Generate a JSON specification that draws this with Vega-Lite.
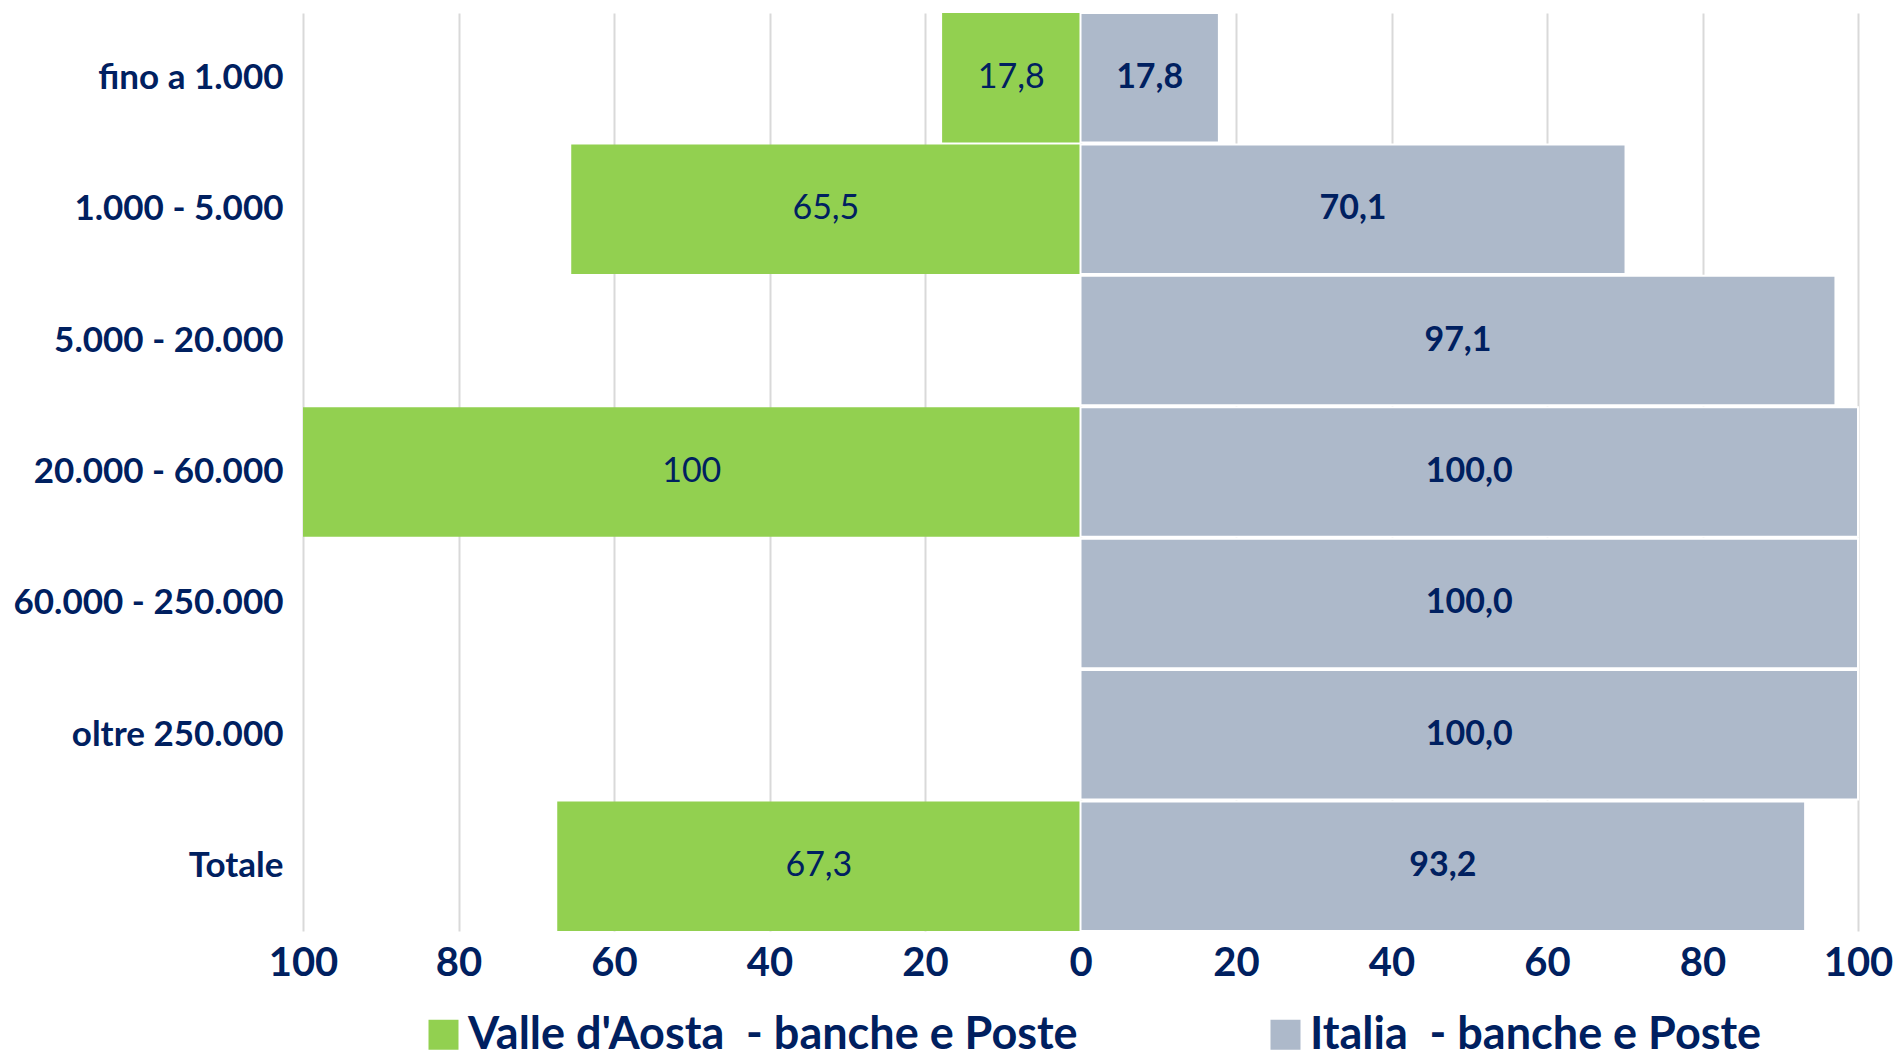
{
  "$schema": "https://vega.github.io/schema/vega-lite/v6.json",
  "width": 1555,
  "height": 918,
  "autosize": {"type": "none"},
  "padding": {"left": 303, "top": 13, "right": 40, "bottom": 130},
  "background": "white",
  "config": {"view": {"stroke": null}, "font": "Lato"},
  "data": {
    "values": [
      {"cat": "fino a 1.000", "serie": "Valle d'Aosta  - banche e Poste", "valore": 17.8, "lab": "17,8"},
      {"cat": "1.000 - 5.000", "serie": "Valle d'Aosta  - banche e Poste", "valore": 65.5, "lab": "65,5"},
      {"cat": "20.000 - 60.000", "serie": "Valle d'Aosta  - banche e Poste", "valore": 100, "lab": "100"},
      {"cat": "Totale", "serie": "Valle d'Aosta  - banche e Poste", "valore": 67.3, "lab": "67,3"},
      {"cat": "fino a 1.000", "serie": "Italia  - banche e Poste", "valore": 17.8, "lab": "17,8"},
      {"cat": "1.000 - 5.000", "serie": "Italia  - banche e Poste", "valore": 70.1, "lab": "70,1"},
      {"cat": "5.000 - 20.000", "serie": "Italia  - banche e Poste", "valore": 97.1, "lab": "97,1"},
      {"cat": "20.000 - 60.000", "serie": "Italia  - banche e Poste", "valore": 100.0, "lab": "100,0"},
      {"cat": "60.000 - 250.000", "serie": "Italia  - banche e Poste", "valore": 100.0, "lab": "100,0"},
      {"cat": "oltre 250.000", "serie": "Italia  - banche e Poste", "valore": 100.0, "lab": "100,0"},
      {"cat": "Totale", "serie": "Italia  - banche e Poste", "valore": 93.2, "lab": "93,2"}
    ]
  },
  "transform": [
    {"calculate": "datum.serie == \"Valle d'Aosta  - banche e Poste\" ? -datum.valore : datum.valore", "as": "xv"},
    {"calculate": "datum.xv / 2", "as": "mid"}
  ],
  "encoding": {
    "y": {
      "field": "cat",
      "type": "nominal",
      "sort": ["fino a 1.000", "1.000 - 5.000", "5.000 - 20.000", "20.000 - 60.000", "60.000 - 250.000", "oltre 250.000", "Totale"],
      "scale": {"paddingInner": 0.015, "paddingOuter": 0},
      "axis": {
        "title": null, "domain": false, "ticks": false, "grid": false,
        "labelFont": "Lato", "labelFontSize": 35, "labelFontWeight": "bold",
        "labelColor": "#002060", "labelPadding": 20, "labelLimit": 0
      }
    }
  },
  "layer": [
    {
      "mark": {"type": "bar", "strokeWidth": 2},
      "encoding": {
        "x": {
          "field": "xv", "type": "quantitative",
          "scale": {"domain": [-100, 100], "nice": false, "zero": true},
          "axis": {
            "title": null,
            "values": [-100, -80, -60, -40, -20, 0, 20, 40, 60, 80, 100],
            "labelExpr": "format(abs(datum.value), 'd')",
            "grid": true, "gridColor": "#d9d9d9", "gridWidth": 2,
            "domain": false, "ticks": false,
            "labelFont": "Lato", "labelFontSize": 40, "labelFontWeight": "bold",
            "labelColor": "#002060", "labelPadding": 12, "labelFlush": false, "labelOverlap": false
          }
        },
        "color": {
          "field": "serie", "type": "nominal",
          "scale": {"domain": ["Valle d'Aosta  - banche e Poste", "Italia  - banche e Poste"], "range": ["#92D050", "#ADB9CA"]},
          "legend": {
            "title": null, "orient": "none", "legendX": 118, "legendY": 999,
            "direction": "horizontal", "columns": 2, "columnPadding": 185,
            "symbolType": "square", "symbolSize": 900, "symbolStrokeWidth": 0,
            "labelExpr": "replace(datum.label, '  ', ' \u00a0')",
            "labelFont": "Lato", "labelFontSize": 45, "labelFontWeight": "bold",
            "labelColor": "#002060", "labelOffset": 2, "labelLimit": 0
          }
        },
        "stroke": {
          "condition": {"test": "datum.serie == 'Italia  - banche e Poste'", "value": "white"},
          "value": null
        }
      }
    },
    {
      "transform": [{"filter": "datum.serie == \"Valle d'Aosta  - banche e Poste\""}],
      "mark": {"type": "text", "font": "Lato", "fontSize": 34, "fontWeight": "normal", "color": "#002060", "align": "center", "baseline": "middle"},
      "encoding": {
        "x": {"field": "mid", "type": "quantitative"},
        "text": {"field": "lab"}
      }
    },
    {
      "transform": [{"filter": "datum.serie == 'Italia  - banche e Poste'"}],
      "mark": {"type": "text", "font": "Lato", "fontSize": 34, "fontWeight": "bold", "color": "#002060", "align": "center", "baseline": "middle"},
      "encoding": {
        "x": {"field": "mid", "type": "quantitative"},
        "text": {"field": "lab"}
      }
    }
  ]
}
